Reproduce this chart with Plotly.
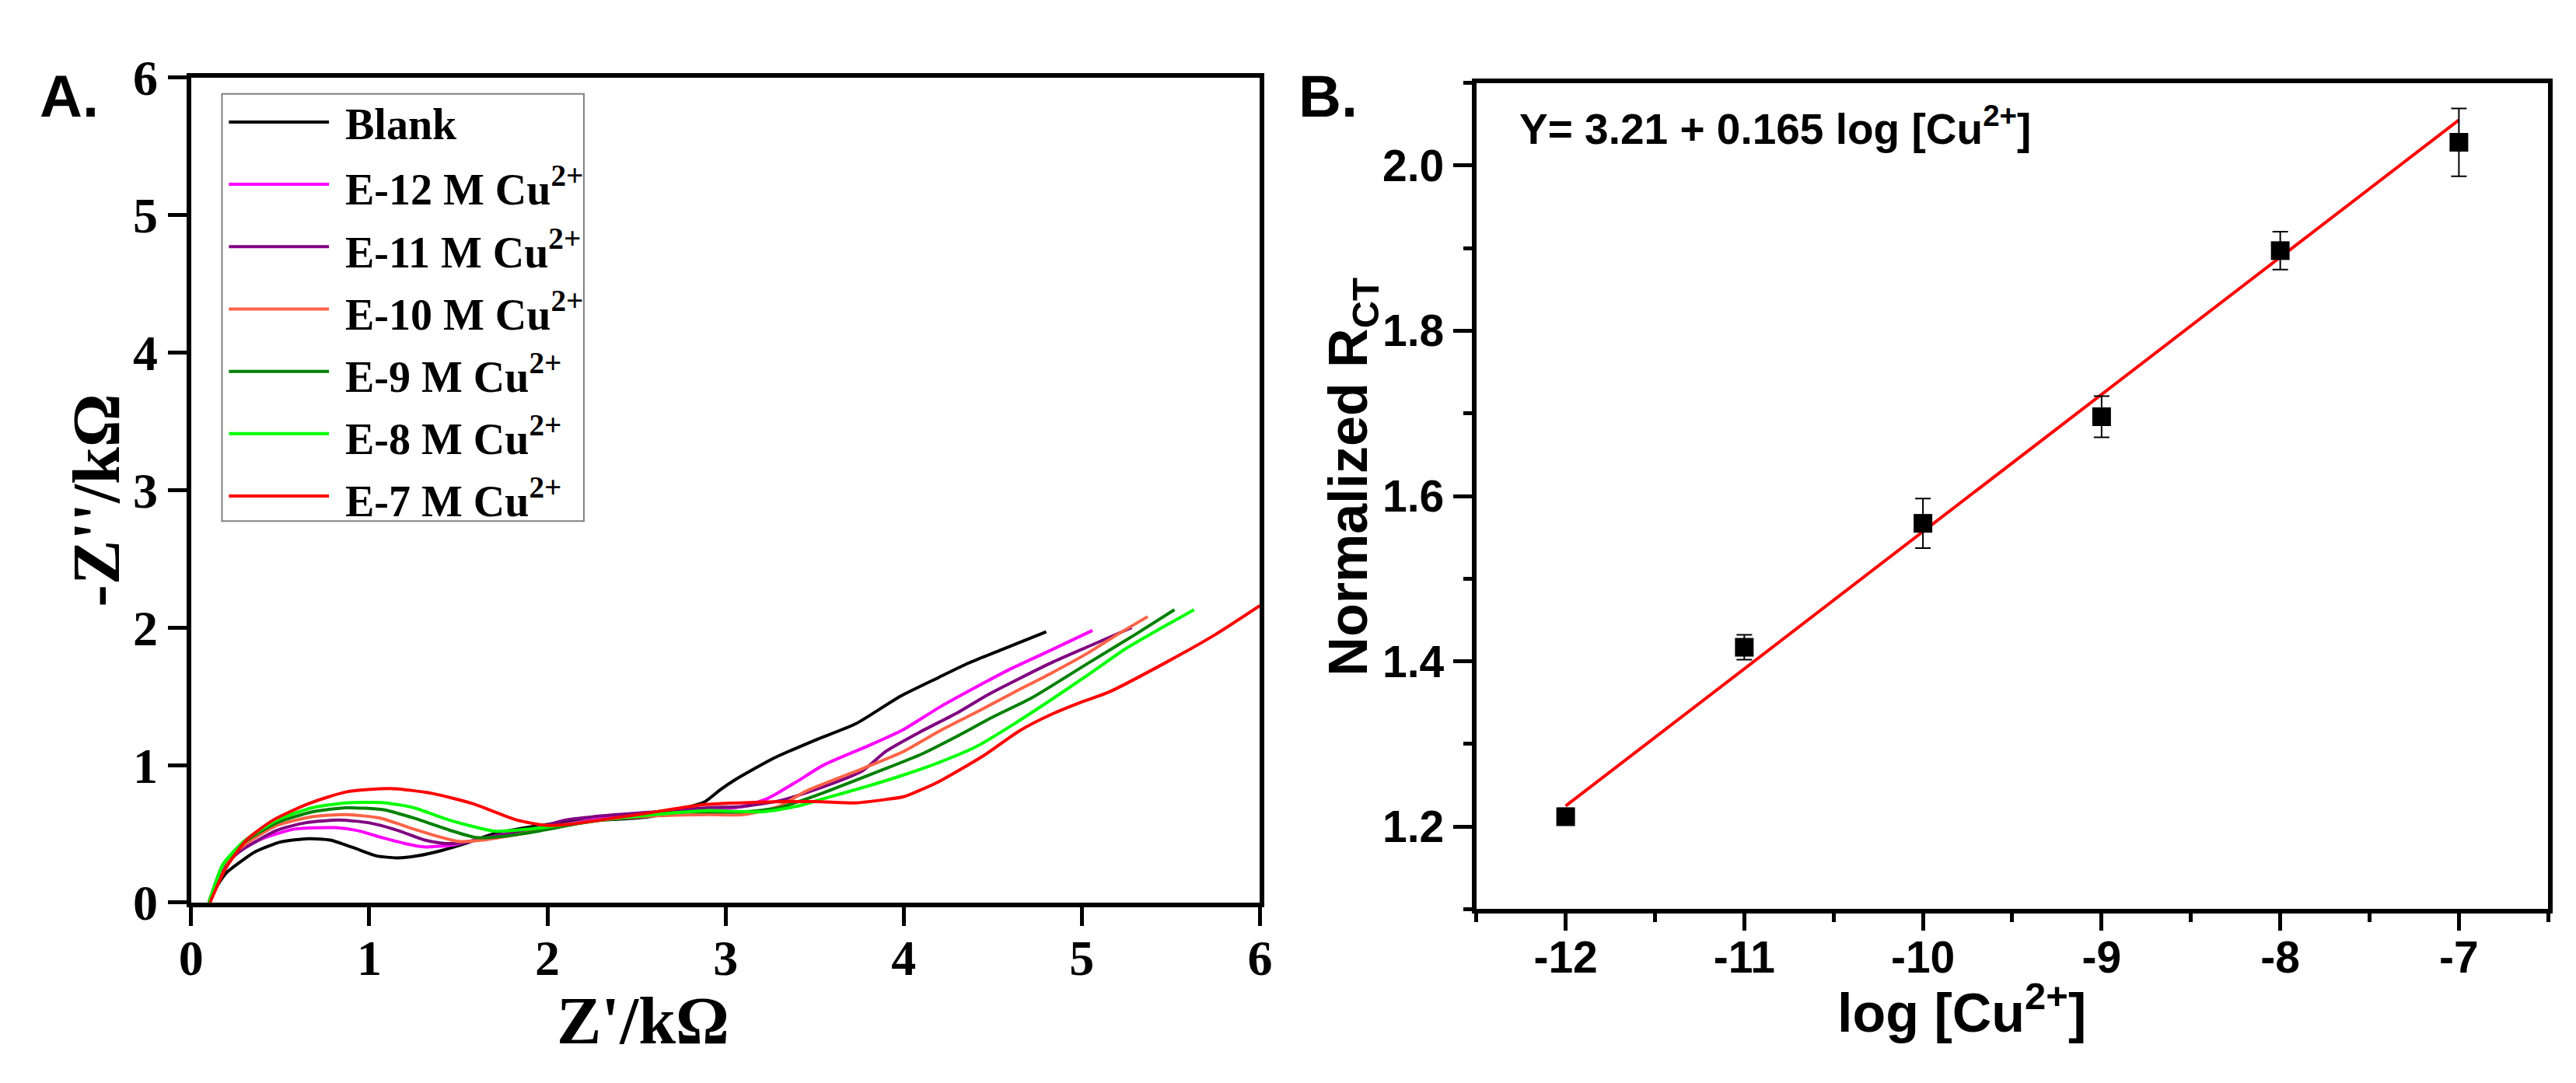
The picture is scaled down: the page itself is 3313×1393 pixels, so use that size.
import plotly.graph_objects as go

W, H = 3313, 1393
SERIF = "Liberation Serif"
SANS = "Liberation Sans"

# ---- panel A: Nyquist plots (Z' / kOhm vs -Z'' / kOhm) ----
names = ["Blank", "E-12 M Cu<sup>2+</sup>", "E-11 M Cu<sup>2+</sup>", "E-10 M Cu<sup>2+</sup>",
         "E-9 M Cu<sup>2+</sup>", "E-8 M Cu<sup>2+</sup>", "E-7 M Cu<sup>2+</sup>"]
colors = ["#000000", "#FF00FF", "#800080", "#FF6347", "#008000", "#00FF00", "#FF0000"]

blank_x = [0.10, 0.15, 0.20, 0.28, 0.36, 0.50, 0.66, 0.78, 0.91, 1.04, 1.16, 1.27, 1.41, 1.54, 1.70,
           1.93, 2.12, 2.41, 2.60, 2.75, 2.88, 2.97, 3.05, 3.27, 3.50, 3.73, 3.98, 4.20, 4.36, 4.55, 4.80]
blank_y = [0.00, 0.13, 0.22, 0.30, 0.37, 0.44, 0.465, 0.455, 0.40, 0.34, 0.325, 0.34, 0.38, 0.43, 0.50,
           0.555, 0.59, 0.607, 0.63, 0.68, 0.73, 0.82, 0.89, 1.05, 1.18, 1.30, 1.50, 1.64, 1.74, 1.84, 1.97]

e12_x = [0.10, 0.19, 0.28, 0.39, 0.58, 0.81, 0.93, 1.08, 1.20, 1.31, 1.47, 1.65, 1.85, 2.05, 2.30,
         2.60, 2.90, 3.10, 3.24, 3.40, 3.55, 3.80, 4.00, 4.20, 4.41, 4.60, 4.80, 5.06]
e12_y = [0.00, 0.27, 0.38, 0.46, 0.535, 0.545, 0.525, 0.47, 0.43, 0.405, 0.42, 0.47, 0.52, 0.56, 0.61,
         0.65, 0.67, 0.70, 0.76, 0.88, 1.00, 1.14, 1.26, 1.42, 1.57, 1.70, 1.82, 1.98]

e11_x = [0.10, 0.18, 0.27, 0.48, 0.64, 0.83, 1.00, 1.16, 1.31, 1.43, 1.54, 1.70, 1.90, 2.10, 2.30,
         2.60, 2.90, 3.10, 3.30, 3.50, 3.77, 3.90, 4.09, 4.30, 4.47, 4.65, 4.83, 5.05, 5.28]
e11_y = [0.00, 0.26, 0.37, 0.525, 0.58, 0.60, 0.58, 0.525, 0.455, 0.43, 0.44, 0.48, 0.53, 0.60, 0.63,
         0.66, 0.69, 0.70, 0.74, 0.82, 0.96, 1.10, 1.24, 1.38, 1.51, 1.63, 1.745, 1.87, 2.00]

e10_x = [0.10, 0.18, 0.30, 0.48, 0.68, 0.87, 1.06, 1.25, 1.39, 1.50, 1.64, 1.85, 2.05, 2.30, 2.60,
         2.90, 3.10, 3.30, 3.45, 3.77, 4.00, 4.19, 4.40, 4.62, 4.83, 5.04, 5.20, 5.37]
e10_y = [0.00, 0.27, 0.42, 0.56, 0.625, 0.64, 0.615, 0.535, 0.48, 0.445, 0.455, 0.50, 0.55, 0.60, 0.63,
         0.64, 0.64, 0.70, 0.81, 0.975, 1.10, 1.24, 1.38, 1.53, 1.67, 1.82, 1.95, 2.08]

e9_x = [0.10, 0.18, 0.30, 0.48, 0.68, 0.87, 1.08, 1.25, 1.45, 1.60, 1.74, 1.95, 2.20, 2.50, 2.80,
        3.10, 3.30, 3.51, 3.87, 4.10, 4.30, 4.50, 4.72, 5.04, 5.30, 5.52]
e9_y = [0.00, 0.28, 0.44, 0.58, 0.66, 0.69, 0.675, 0.615, 0.527, 0.473, 0.48, 0.52, 0.58, 0.63, 0.66,
        0.66, 0.69, 0.78, 0.96, 1.08, 1.21, 1.35, 1.49, 1.745, 1.95, 2.13]

e8_x = [0.10, 0.18, 0.30, 0.48, 0.68, 0.87, 1.08, 1.25, 1.45, 1.70, 1.83, 2.00, 2.30, 2.60, 2.90,
        3.20, 3.40, 3.56, 3.78, 3.98, 4.20, 4.41, 4.62, 4.83, 5.05, 5.25, 5.45, 5.63]
e8_y = [0.00, 0.28, 0.45, 0.60, 0.69, 0.725, 0.727, 0.69, 0.60, 0.52, 0.527, 0.55, 0.60, 0.64, 0.67,
        0.66, 0.70, 0.76, 0.84, 0.92, 1.02, 1.136, 1.30, 1.477, 1.67, 1.85, 2.00, 2.13]

e7_x = [0.106, 0.19, 0.31, 0.46, 0.66, 0.87, 1.12, 1.35, 1.58, 1.83, 1.99, 2.12, 2.51, 2.86, 3.20,
        3.50, 3.73, 3.90, 4.00, 4.19, 4.45, 4.65, 4.83, 5.00, 5.15, 5.47, 5.75, 6.00]
e7_y = [0.00, 0.24, 0.455, 0.60, 0.72, 0.805, 0.83, 0.795, 0.72, 0.60, 0.562, 0.57, 0.64, 0.71, 0.73,
        0.735, 0.725, 0.75, 0.77, 0.875, 1.07, 1.25, 1.37, 1.46, 1.53, 1.745, 1.95, 2.16]

series_x = [blank_x, e12_x, e11_x, e10_x, e9_x, e8_x, e7_x]
series_y = [blank_y, e12_y, e11_y, e10_y, e9_y, e8_y, e7_y]

# ---- panel B: calibration ----
log_cu = [-12, -11, -10, -9, -8, -7]
rct = [1.212, 1.417, 1.567, 1.696, 1.897, 2.028]
rct_err = [0.010, 0.015, 0.030, 0.025, 0.023, 0.041]
fit_x = [-12, -7]
fit_y = [1.225, 2.055]
x2_labels = ["-12", "-11", "-10", "-9", "-8", "-7"]


def px(x):
    return x / W


def py(y):
    return 1 - y / H


fig = go.Figure()

for xs, ys, nm, c in zip(series_x, series_y, names, colors):
    fig.add_trace(go.Scatter(x=xs, y=ys, mode="lines", name=nm, showlegend=False,
                             line=dict(color=c, width=4, shape="spline", smoothing=0.6),
                             xaxis="x", yaxis="y"))

fig.add_trace(go.Scatter(x=fit_x, y=fit_y, mode="lines", showlegend=False,
                         line=dict(color="#FF0000", width=4), xaxis="x2", yaxis="y2"))
fig.add_trace(go.Scatter(x=log_cu, y=rct, mode="markers", showlegend=False,
                         marker=dict(symbol="square", size=24, color="black"),
                         error_y=dict(type="data", array=rct_err, color="black", thickness=2, width=10),
                         xaxis="x2", yaxis="y2"))

axis_common = dict(showgrid=False, zeroline=False, showline=True, linecolor="black", linewidth=6,
                   mirror=True, ticks="outside", tickcolor="black", tickwidth=5)

fig.update_layout(
    width=W, height=H, margin=dict(l=0, r=0, t=0, b=0),
    paper_bgcolor="white", plot_bgcolor="white",
    xaxis=dict(axis_common, domain=[px(224), px(1612)], range=[0, 6], dtick=1, ticklen=24,
               ticklabelstandoff=-14, anchor="y",
               tickfont=dict(family=SERIF, size=64, weight="bold", color="black")),
    yaxis=dict(axis_common, domain=[py(1178), py(60)], range=[0, 6], dtick=1, ticklen=24,
               anchor="x", tickfont=dict(family=SERIF, size=64, weight="bold", color="black")),
    xaxis2=dict(axis_common, domain=[px(1893), px(3285)], range=[-12.5, -6.5],
                tickvals=log_cu, ticktext=x2_labels, ticklen=22, ticklabelstandoff=-15, anchor="y2",
                minor=dict(dtick=0.5, tick0=-12, ticks="outside", ticklen=11, tickwidth=5, tickcolor="black"),
                tickfont=dict(family=SANS, size=57, weight="bold", color="black")),
    yaxis2=dict(axis_common, domain=[py(1187), py(67)], range=[1.1, 2.1], tick0=1.2, dtick=0.2,
                tickformat=".1f", ticklen=24, anchor="x2",
                minor=dict(dtick=0.1, tick0=1.2, ticks="outside", ticklen=11, tickwidth=5, tickcolor="black"),
                tickfont=dict(family=SANS, size=57, weight="bold", color="black")),
)

ann = []
shapes = []

# panel letters
ann.append(dict(text="A.", x=px(66), y=py(85), font=dict(family=SANS, size=76, weight="bold", color="black")))
ann.append(dict(text="B.", x=px(1700), y=py(85), font=dict(family=SANS, size=76, weight="bold", color="black")))

# axis titles
ann.append(dict(text="Z'/kΩ", x=px(811), y=py(1338),
                font=dict(family=SERIF, size=86, weight="bold", color="black")))
ann.append(dict(text="-Z''/kΩ", x=px(101), y=py(633), textangle=-90,
                font=dict(family=SERIF, size=86, weight="bold", color="black")))
ann.append(dict(text="log [Cu<sup>2+</sup>]", x=px(2523), y=py(1322),
                font=dict(family=SANS, size=70, weight="bold", color="black")))
ann.append(dict(text="Normalized R<sub>CT</sub>", x=px(1732), y=py(601), textangle=-90,
                font=dict(family=SANS, size=70, weight="bold", color="black")))

# fit equation
ann.append(dict(text="Y= 3.21 + 0.165 log [Cu<sup>2+</sup>]", x=px(1947), y=py(125), xanchor="left",
                font=dict(family=SANS, size=55, weight="bold", color="black")))

# legend for panel A
shapes.append(dict(type="rect", xref="paper", yref="paper", x0=px(264), x1=px(734), y0=py(661), y1=py(82),
                   line=dict(color="#808080", width=2), fillcolor="rgba(0,0,0,0)"))
for i, (nm, c) in enumerate(zip(names, colors)):
    row = 120 + i * 84.5
    shapes.append(dict(type="line", xref="paper", yref="paper", x0=px(273), x1=px(403), y0=py(row), y1=py(row),
                       line=dict(color=c, width=4)))
    ann.append(dict(text=nm, x=px(422), y=py(row + 3), xanchor="left",
                    font=dict(family=SERIF, size=56, weight="bold", color="black")))

for a in ann:
    a.update(xref="paper", yref="paper", showarrow=False)
    a.setdefault("xanchor", "center")
    a.setdefault("yanchor", "middle")

fig.update_layout(annotations=ann, shapes=shapes)

fig.write_html("out.html")
